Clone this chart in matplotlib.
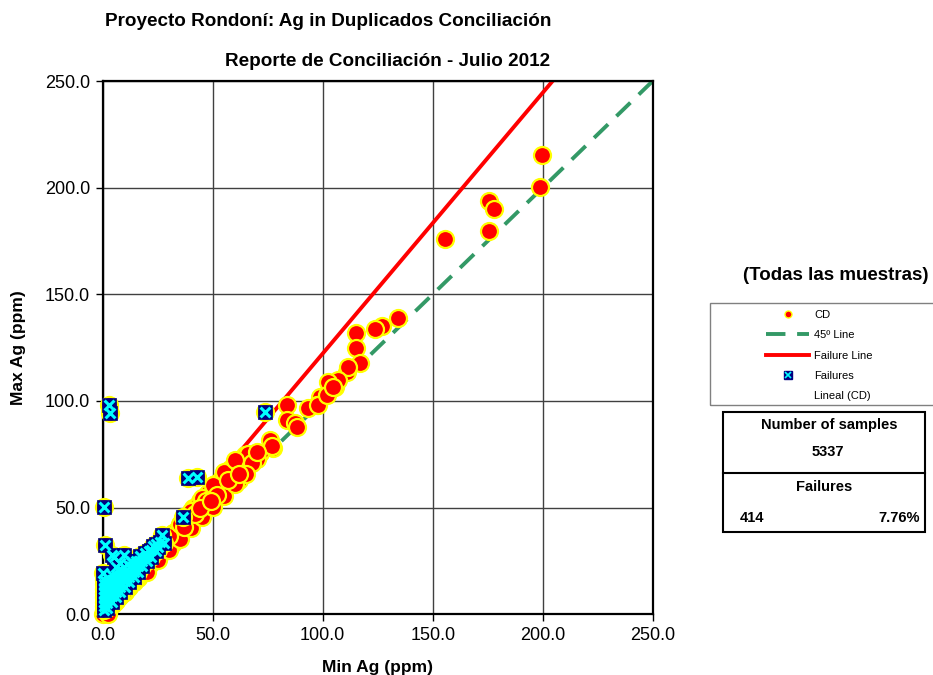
"""Ag duplicate reconciliation scatter (Min vs Max) with failure line"""

import numpy as np
import matplotlib.pyplot as plt
from matplotlib.lines import Line2D
from matplotlib.patches import Rectangle

plt.rcParams['font.family'] = ['Liberation Sans', 'DejaVu Sans']

# CD samples that pass (min, max)
cd_min = [199.7, 198.8, 175.6, 177.9, 175.6, 155.7, 134.4, 126.8, 123.8, 115.1,
          115.1, 117.0, 110.9, 111.6, 105.6, 107.1, 102.5, 98.8, 97.3, 93.5,
          83.6, 83.6, 87.4, 88.2, 98.0, 101.8, 104.8, 76.0, 77.5, 71.5,
          65.5, 68.3, 63.9, 57.9, 59.4, 62.4, 54.8, 51.8, 50.3, 62.4,
          60.5, 62.0, 56.0, 55.0, 53.0, 52.0, 49.0, 48.0, 47.0, 45.7,
          46.0, 44.0, 44.0, 42.7, 41.2, 40.0, 39.7, 38.0, 37.0, 36.6,
          35.1, 34.0, 33.0, 32.1, 31.0, 30.6, 29.0, 28.0, 27.0, 26.0,
          25.0, 24.0, 23.0, 22.0, 21.0, 20.0, 19.0, 18.0, 17.0, 16.0,
          15.0, 14.0, 13.0, 12.0, 11.0, 10.0, 9.0, 8.0, 7.0, 6.0,
          5.0, 4.0, 3.0, 2.0, 1.0, 0.5, 1.5, 0.3, 58.0, 61.0,
          66.0, 67.0, 70.0, 52.0, 48.0, 43.0, 39.0, 57.9, 64.7, 76.9,
          22.0, 24.0, 26.0, 28.0, 30.0, 32.0, 33.0, 35.0, 36.0, 38.0,
          40.0, 41.0, 42.0, 45.0, 47.0, 48.0, 50.0, 51.0, 53.0, 54.0,
          56.0, 57.0, 59.0, 60.0, 63.0, 64.0, 66.0, 68.0, 70.0, 2.5,
          20.0, 25.0, 30.0, 35.0, 40.0, 45.0, 50.0, 55.0, 60.0, 65.0,
          25.0, 30.0, 35.0, 40.0, 45.0, 50.0, 55.0, 60.0,
          37.0, 42.0, 47.0, 52.0, 57.0, 62.0, 44.0, 49.0]
cd_max = [215.3, 200.3, 193.8, 190.0, 179.7, 176.0, 138.8, 135.2, 133.6, 132.0,
          124.7, 117.7, 113.7, 115.8, 106.7, 109.8, 109.0, 102.0, 98.1, 96.6,
          98.1, 91.1, 89.5, 88.0, 98.1, 102.8, 106.7, 81.7, 77.8, 75.5,
          73.9, 74.7, 65.3, 61.4, 67.7, 67.7, 63.0, 58.3, 55.1, 70.8,
          68.0, 63.0, 66.0, 63.0, 62.0, 57.5, 58.0, 55.0, 52.0, 50.4,
          54.0, 53.0, 48.0, 46.6, 49.7, 47.0, 43.4, 44.0, 42.0, 41.1,
          38.0, 40.0, 37.0, 33.3, 36.0, 31.7, 34.0, 31.0, 29.0, 28.5,
          27.0, 29.0, 25.0, 26.0, 23.0, 21.5, 22.0, 19.5, 18.5, 17.0,
          16.5, 15.0, 14.0, 13.0, 12.0, 10.5, 10.0, 8.5, 7.5, 6.3,
          5.3, 4.2, 3.2, 2.1, 1.1, 0.5, 1.2, 0.2, 68.0, 72.0,
          70.0, 72.0, 73.0, 60.0, 51.0, 51.0, 46.0, 64.5, 74.7, 78.9,
          24.0, 26.0, 30.0, 33.0, 35.0, 38.0, 35.0, 42.0, 39.0, 41.0,
          45.0, 44.0, 49.0, 49.0, 55.0, 57.0, 58.0, 61.0, 58.0, 64.0,
          61.0, 67.0, 64.0, 71.0, 68.0, 73.0, 75.0, 71.0, 76.0, 0.3,
          20.0, 25.5, 30.0, 35.5, 40.5, 45.5, 50.5, 55.5, 61.0, 66.0,
          30.3, 36.5, 42.5, 48.5, 54.5, 60.5, 66.5, 72.5,
          41.0, 47.0, 53.0, 56.0, 63.0, 66.0, 50.0, 53.0]

# failures (min, max)
fail_min = [3.0, 3.3, 73.8, 38.9, 42.7, 0.6, 36.6, 1.0, 26.8, 27.7,
            25.3, 4.1, 9.5, 5.0, 7.3, 19.4, 0.3,
            0.5, 0.5, 0.5, 0.5, 0.5, 0.5, 0.5, 0.8,
            2.0, 2.0, 2.0, 2.0, 2.0, 2.5,
            4.0, 4.0, 4.0, 4.0, 4.5, 4.0,
            6.0, 6.0, 6.0, 6.0, 6.5, 6.0,
            8.0, 8.0, 8.0, 8.0, 8.5, 8.0,
            10.0, 10.0, 10.0, 10.0, 11.0,
            12.0, 12.0, 12.0, 12.5, 13.0,
            14.0, 14.0, 14.0, 15.0,
            16.0, 16.0, 17.0, 17.0,
            18.0, 18.0, 19.0,
            20.0, 20.0, 21.0,
            22.0, 22.0, 23.0, 24.0, 24.0, 26.0]
fail_max = [98.0, 94.3, 95.0, 63.8, 64.5, 50.4, 45.5, 32.5, 37.2, 33.3,
            31.7, 27.8, 27.8, 27.0, 20.8, 28.6, 19.5,
            2.0, 4.0, 6.0, 8.0, 10.0, 12.0, 14.0, 16.0,
            3.0, 5.5, 8.0, 10.5, 13.0, 15.5,
            6.0, 8.5, 11.0, 13.5, 16.0, 18.5,
            8.0, 10.5, 13.0, 15.5, 18.0, 22.0,
            10.5, 13.0, 15.5, 18.0, 21.0, 24.0,
            13.0, 15.5, 18.0, 20.5, 23.5,
            15.0, 17.5, 20.0, 22.5, 25.0,
            17.5, 20.0, 22.5, 25.0,
            20.0, 22.5, 25.0, 27.5,
            22.5, 25.0, 27.0,
            25.0, 27.5, 29.5,
            27.0, 30.0, 32.0, 29.5, 33.0, 34.0]

# reference lines
line45_x = [0, 250]
line45_y = [0, 250]
failure_x = [0, 204.5]
failure_y = [0, 250]

n_samples = 5337
n_failures = 414
pct_failures = '7.76%'

all_min = cd_min + fail_min
all_max = cd_max + fail_max

fig = plt.figure(figsize=(9.33, 6.75), dpi=100)
ax = fig.add_axes([0.1101, 0.0899, 0.5895, 0.7901])

ax.plot(line45_x, line45_y, color='#339966', lw=2.8, dashes=(5, 3), zorder=2)
ax.plot(failure_x, failure_y, color='#ff0000', lw=2.8, zorder=2)

ax.scatter(all_min, all_max, s=150, c='#ff0000', edgecolors='#ffff00',
           linewidths=1.6, zorder=3, clip_on=False)
ax.scatter(fail_min, fail_max, s=95, marker='s', c='#000080',
           edgecolors='#000080', linewidths=0.5, zorder=4, clip_on=False)
ax.scatter(fail_min, fail_max, s=50, marker='x', c='#00ffff',
           linewidths=2.2, zorder=5, clip_on=False)

ax.set_xlim(0, 250)
ax.set_ylim(0, 250)
ticks = np.arange(0, 251, 50)
ax.set_xticks(ticks)
ax.set_yticks(ticks)
ax.set_xticklabels([f'{t:.1f}' for t in ticks])
ax.set_yticklabels([f'{t:.1f}' for t in ticks])
ax.tick_params(direction='out', length=5, width=1, labelsize=13, pad=4)
ax.grid(True, color='#404040', lw=1)
ax.set_axisbelow(True)
for sp in ax.spines.values():
    sp.set_linewidth(1.6)
    sp.set_color('black')

ax.set_xlabel('Min Ag (ppm)', fontsize=12.5, fontweight='bold', labelpad=12)
ax.set_ylabel('Max Ag (ppm)', fontsize=12.5, fontweight='bold', labelpad=14)

fig.text(105 / 933, 1 - 22 / 675, 'Proyecto Rondoní: Ag in Duplicados Conciliación',
         ha='left', va='center', fontsize=13.6, fontweight='bold')
fig.text(387.5 / 933, 1 - 62 / 675, 'Reporte de Conciliación - Julio 2012',
         ha='center', va='center', fontsize=13.6, fontweight='bold')
fig.text(836 / 933, 1 - 275 / 675, '(Todas las muestras)',
         ha='center', va='center', fontsize=13.5, fontweight='bold')

# legend
fail_sq = Line2D([], [], ls='none', marker='s', ms=6, mfc='#000080', mec='#000080')
fail_x = Line2D([], [], ls='none', marker='x', ms=4, mec='#00ffff', mew=1.2)
handles = [
    Line2D([], [], ls='none', marker='o', ms=5, mfc='#ff0000', mec='#ffff00', mew=1),
    Line2D([], [], color='#339966', lw=2.8, dashes=(5, 3)),
    Line2D([], [], color='#ff0000', lw=2.8),
    (fail_sq, fail_x),
    Line2D([], [], color='none'),
]
labels = ['CD', '45º Line', 'Failure Line', 'Failures', 'Lineal (CD)']
fig.legend(handles, labels, loc='upper left', bbox_to_anchor=(757 / 933, 1 - 301 / 675),
           frameon=False, fontsize=8, handlelength=3.9, handletextpad=0.45,
           labelspacing=0.93, borderpad=0.3)
fig.add_artist(Rectangle((710 / 933, 1 - 405 / 675), 240 / 933, 102 / 675,
                         transform=fig.transFigure, fill=False,
                         edgecolor='#808080', lw=1))

# stats box
fig.add_artist(Rectangle((723 / 933, 1 - 532 / 675), 202 / 933, 120 / 675,
                         transform=fig.transFigure, fill=False,
                         edgecolor='black', lw=1.5))
fig.add_artist(Line2D([723 / 933, 925 / 933], [1 - 473 / 675, 1 - 473 / 675],
                      transform=fig.transFigure, color='black', lw=1.5))
fig.text(829 / 933, 1 - 425 / 675, 'Number of samples', ha='center', va='center',
         fontsize=10.5, fontweight='bold')
fig.text(828 / 933, 1 - 452 / 675, str(n_samples), ha='center', va='center',
         fontsize=10.5, fontweight='bold')
fig.text(824 / 933, 1 - 487 / 675, 'Failures', ha='center', va='center',
         fontsize=10.5, fontweight='bold')
fig.text(740 / 933, 1 - 518 / 675, str(n_failures), ha='left', va='center',
         fontsize=10.5, fontweight='bold')
fig.text(920 / 933, 1 - 518 / 675, pct_failures, ha='right', va='center',
         fontsize=10.5, fontweight='bold')

plt.savefig('out.png', dpi=100)
